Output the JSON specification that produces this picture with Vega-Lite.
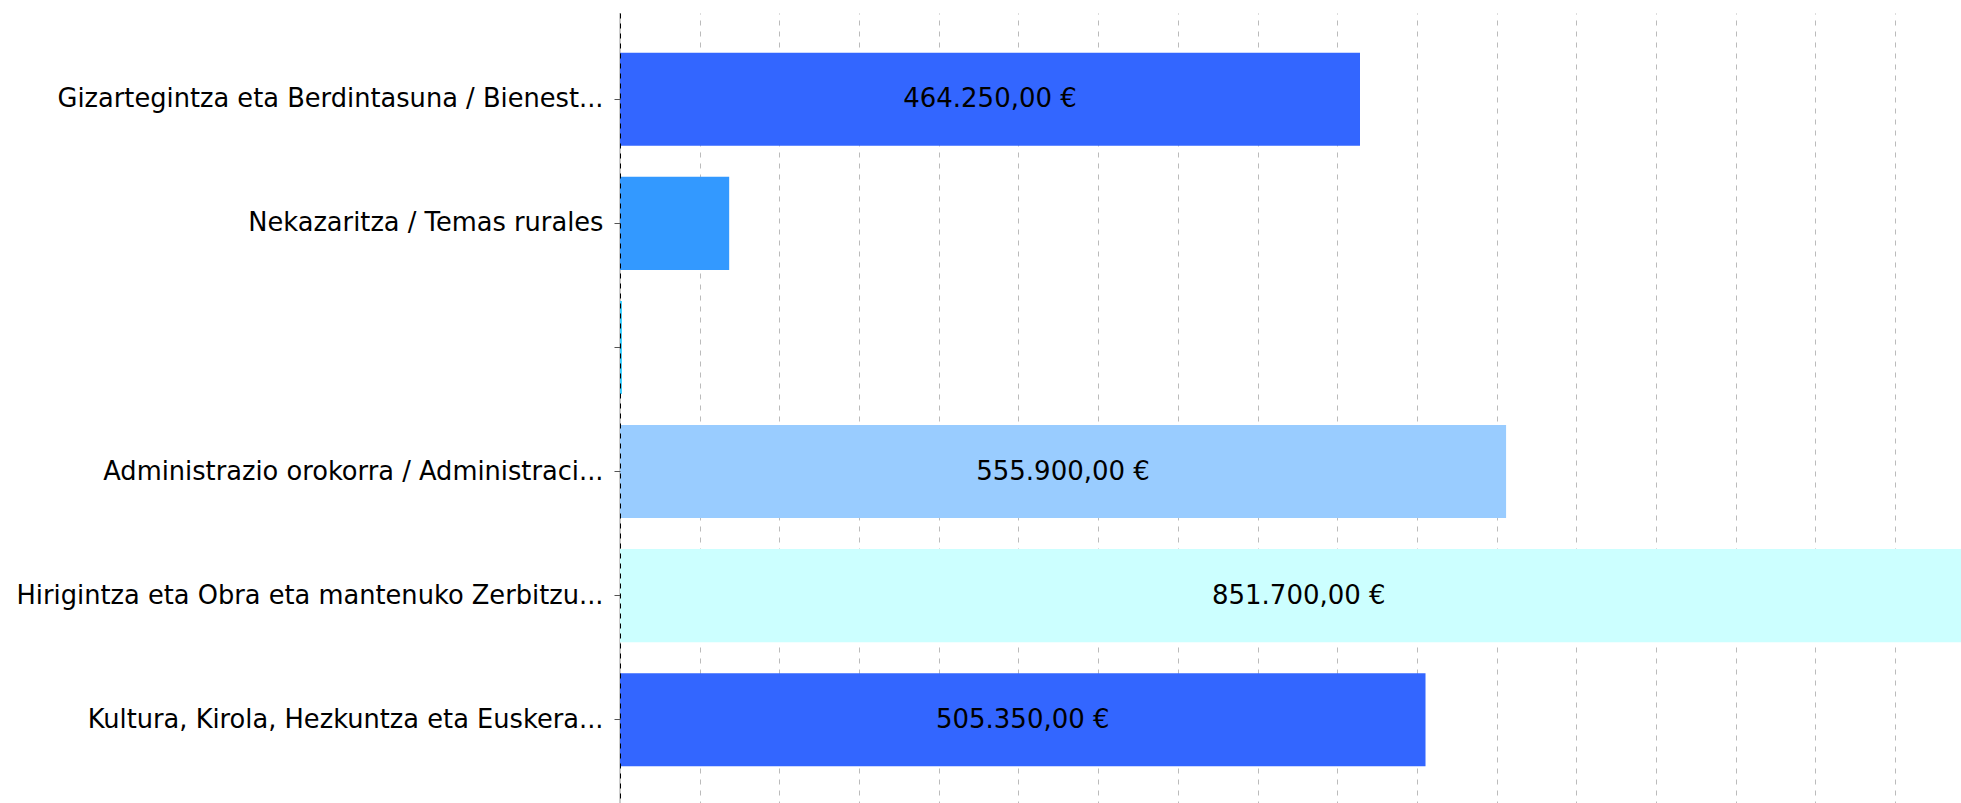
{
  "$schema": "https://vega.github.io/schema/vega-lite/v6.json",
  "autosize": {"type": "none"},
  "padding": {"left": 620, "top": 13, "right": 0, "bottom": 0},
  "width": 1341,
  "height": 793,
  "background": "white",
  "config": {
    "view": {"stroke": null},
    "font": "DejaVu Sans",
    "locale": {"number": {"decimal": ",", "thousands": ".", "grouping": [3], "currency": ["", " €"]}}
  },
  "data": {
    "values": [
      {"category": "Gizartegintza eta Berdintasuna / Bienest...", "value": 464250, "color": "#3366FF"},
      {"category": "Nekazaritza / Temas rurales", "value": 68500, "color": "#3399FF"},
      {"category": "", "value": 1200, "color": "#33CCFF"},
      {"category": "Administrazio orokorra / Administraci...", "value": 555900, "color": "#99CCFF"},
      {"category": "Hirigintza eta Obra eta mantenuko Zerbitzu...", "value": 851700, "color": "#CCFFFF"},
      {"category": "Kultura, Kirola, Hezkuntza eta Euskera...", "value": 505350, "color": "#3366FF"}
    ]
  },
  "encoding": {
    "y": {
      "field": "category",
      "type": "nominal",
      "sort": null,
      "scale": {"paddingInner": 0.25, "paddingOuter": 0.32},
      "axis": {
        "title": null,
        "labelFontSize": 25.7,
        "labelColor": "#000000",
        "labelLimit": 700,
        "tickSize": 6,
        "tickColor": "#555555",
        "labelPadding": 11,
        "domainColor": "#000000",
        "domainDash": [5, 5],
        "domainWidth": 1,
        "zindex": 2
      }
    }
  },
  "layer": [
    {
      "mark": {"type": "rule", "color": "#cccccc", "strokeWidth": 2},
      "encoding": {"x": {"datum": 0, "type": "quantitative"}, "y": null}
    },
    {
      "mark": {"type": "bar", "clip": true},
      "encoding": {
        "x": {
          "field": "value",
          "type": "quantitative",
          "scale": {"domain": [0, 841300], "nice": false, "zero": true},
          "axis": {
            "title": null,
            "labels": false,
            "ticks": false,
            "domain": false,
            "grid": true,
            "gridColor": "#bbbbbb",
            "gridDash": [5, 6],
            "gridWidth": 1,
            "values": [50000, 100000, 150000, 200000, 250000, 300000, 350000, 400000, 450000, 500000, 550000, 600000, 650000, 700000, 750000, 800000]
          }
        },
        "color": {"field": "color", "type": "nominal", "scale": null, "legend": null}
      }
    },
    {
      "transform": [
        {"filter": "datum.value > 100000"},
        {"calculate": "datum.value / 2", "as": "mid"}
      ],
      "mark": {"type": "text", "fontSize": 26, "color": "#000000", "align": "center", "baseline": "middle"},
      "encoding": {
        "x": {"field": "mid", "type": "quantitative"},
        "text": {"field": "value", "type": "quantitative", "format": "$,.2f"}
      }
    }
  ]
}
